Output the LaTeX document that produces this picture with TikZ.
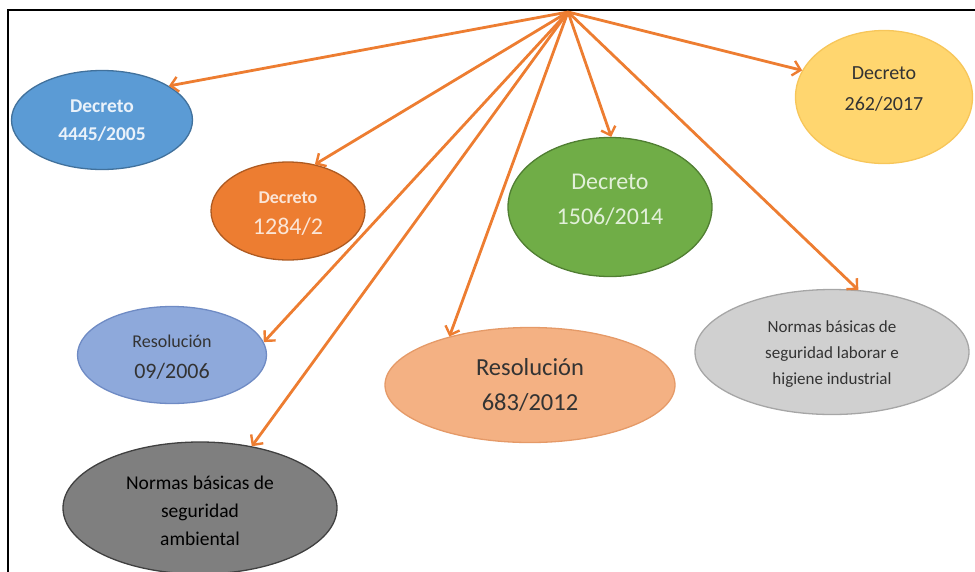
\documentclass[tikz,border=0pt]{standalone}
\usepackage{fontspec}
\setmainfont{Carlito}
\usetikzlibrary{shapes.geometric,arrows.meta}
\definecolor{arr}{HTML}{ED7D31}
\definecolor{bluef}{HTML}{5B9BD5}\definecolor{blued}{HTML}{41719C}
\definecolor{orf}{HTML}{ED7D31}\definecolor{ord}{HTML}{AE5A21}
\definecolor{grf}{HTML}{70AD47}\definecolor{grd}{HTML}{507E32}
\definecolor{yef}{HTML}{FFD66F}\definecolor{yed}{HTML}{F7C65A}
\definecolor{pef}{HTML}{8EA9DB}\definecolor{ped}{HTML}{6F8BC4}
\definecolor{saf}{HTML}{F4B183}\definecolor{sad}{HTML}{E59A68}
\definecolor{lgf}{HTML}{D0D0D0}\definecolor{lgd}{HTML}{A6A6A6}
\definecolor{dgf}{HTML}{7F7F7F}\definecolor{dgd}{HTML}{404040}
\definecolor{txd}{HTML}{333333}
\definecolor{txo}{HTML}{FBE5D6}
\definecolor{txg}{HTML}{E2F0D9}
\definecolor{txb}{HTML}{EAF2FA}
\tikzset{
  oval/.style={ellipse, draw, line width=1.3pt, inner sep=0pt},
  ray/.style={draw=arr, line width=2.8pt, -{Straight Barb[length=7.5pt,width=15pt,line width=2.4pt]}},
  frame/.style={draw=black, line width=2pt}
}
\begin{document}
\begin{tikzpicture}[x=1pt,y=-1pt]
\useasboundingbox (0,0) rectangle (975,571);
\draw[frame] (8,10) rectangle (990,590);
\coordinate (src) at (568,12);

\node[oval, fill=bluef, draw=blued, minimum width=181pt, minimum height=99pt,
  label={[align=center, text=txb, font=\fontsize{19.5}{28}\selectfont\bfseries, yshift=-1pt]center:Decreto\\4445/2005}] (blue) at (102,120) {};
\node[oval, fill=orf, draw=ord, minimum width=154pt, minimum height=98pt,
  label={[align=center, text=txo, font=\fontsize{24}{31}\selectfont, yshift=-3pt]center:{\fontsize{18}{31}\selectfont\bfseries Decreto}\\1284/2}] (orange) at (288,211) {};
\node[oval, fill=grf, draw=grd, minimum width=204pt, minimum height=139pt,
  label={[align=center, text=txg, font=\fontsize{24}{35}\selectfont, yshift=7pt]center:Decreto\\1506/2014}] (green) at (610,207) {};
\node[oval, fill=yef, draw=yed, minimum width=177pt, minimum height=133pt,
  label={[align=center, text=txd, font=\fontsize{20}{31}\selectfont, yshift=8pt]center:Decreto\\262/2017}] (yellow) at (884,97) {};
\node[oval, fill=pef, draw=ped, minimum width=189pt, minimum height=97pt,
  label={[align=center, text=txd, font=\fontsize{22}{31}\selectfont, yshift=-2pt]center:{\fontsize{18}{31}\selectfont Resolución}\\09/2006}] (res) at (172,355) {};
\node[oval, fill=saf, draw=sad, minimum width=290pt, minimum height=115pt,
  label={[align=center, text=txd, font=\fontsize{24.5}{35}\selectfont]center:Resolución\\683/2012}] (salmon) at (530,385) {};
\node[oval, fill=lgf, draw=lgd, minimum width=274pt, minimum height=125pt,
  label={[align=center, text=txd, font=\fontsize{17}{26}\selectfont, yshift=-2pt]center:Normas básicas de\\seguridad laborar e\\higiene industrial}] (lab) at (832,352) {};
\node[oval, fill=dgf, draw=dgd, minimum width=274pt, minimum height=132pt,
  label={[align=center, text=black, font=\fontsize{19.5}{28}\selectfont, yshift=-3pt]center:Normas básicas de\\seguridad\\ambiental}] (amb) at (200,508) {};

\draw[ray] (src) -- (blue.27);
\draw[ray] (src) -- (orange.60);
\draw[ray] (src) -- (res.8);
\draw[ray] (src) -- (amb.50);
\draw[ray] (src) -- (salmon.149);
\draw[ray] (src) -- (green.89);
\draw[ray] (src) -- (lab.67);
\draw[ray] (src) -- (yellow.162);
\end{tikzpicture}
\end{document}
